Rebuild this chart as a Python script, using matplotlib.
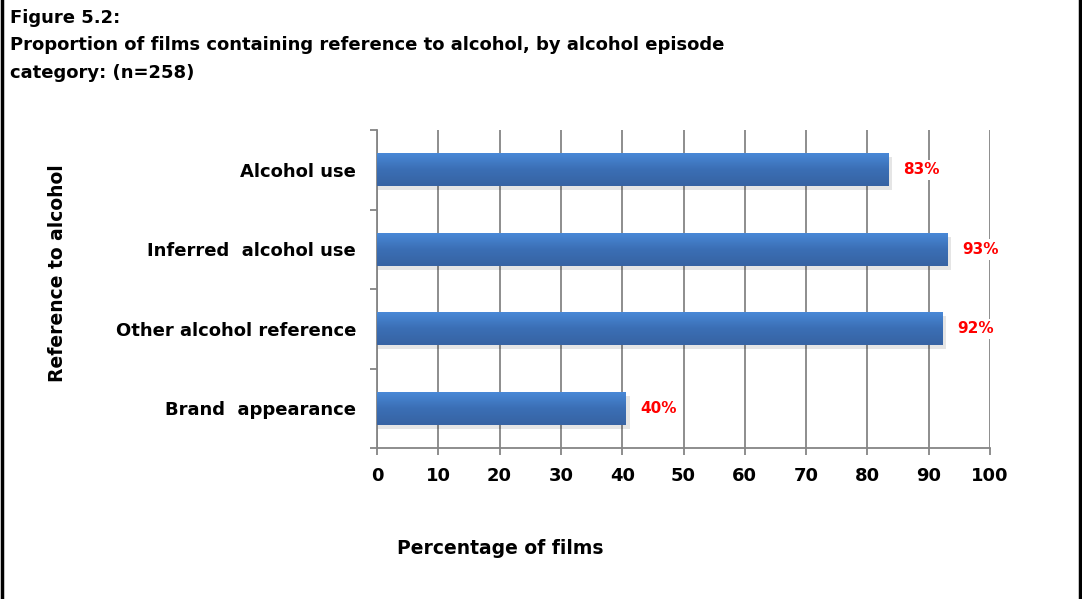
import numpy as np
import matplotlib
matplotlib.use("Agg")
import matplotlib.pyplot as plt

plt.rcParams['font.family'] = ['DejaVu Sans']
plt.rcParams['font.weight'] = 'bold'

# data
categories = ['Alcohol use', 'Inferred  alcohol use', 'Other alcohol reference', 'Brand  appearance']
values = [83.4, 93.1, 92.3, 40.6]
labels = ['83%', '93%', '92%', '40%']
xticks = list(range(0, 101, 10))

W, H = 1082, 599
fig = plt.figure(figsize=(W / 100, H / 100), dpi=100)

# axes: x 377..990 px, y 130..448 px
ax = fig.add_axes([377 / W, 1 - 448 / H, (990 - 377) / W, (448 - 130) / H])
ypos = np.arange(len(categories))[::-1]
ax.set_xlim(0, 100)
ax.set_ylim(-0.5, len(categories) - 0.5)

ax.set_axisbelow(True)
ax.xaxis.grid(True, color='#858585', lw=1.3)
ax.yaxis.grid(False)

bar_h = 0.42
# gradient for bars
grad = np.linspace(0, 1, 100).reshape(-1, 1)
cmap = matplotlib.colors.LinearSegmentedColormap.from_list('b', ['#4a8ad9', '#3b6fb5', '#3763a3'])
for y, v in zip(ypos, values):
    # shadow
    ax.barh(y - 0.05, v + 0.5, height=bar_h, left=0.1, color='#000000', alpha=0.10, zorder=2)
    b = ax.barh(y, v, height=bar_h, color='#4178c4', zorder=3, edgecolor='none')
    im = ax.imshow(grad, cmap=cmap, aspect='auto', zorder=4,
                   extent=[0, v, y - bar_h / 2, y + bar_h / 2])
    im.set_clip_path(b.patches[0])

for y, v, t in zip(ypos, values, labels):
    ax.text(v + 2.4, y, t, color='#ff0000', fontsize=11, fontweight='bold',
            va='center', ha='left', zorder=5,
            bbox=dict(facecolor='white', edgecolor='none', pad=2))

ax.set_xticks(xticks)
ax.set_xticklabels([str(x) for x in xticks], fontsize=13, fontweight='bold')
ax.set_yticks(ypos)
ax.set_yticklabels(categories, fontsize=13, fontweight='bold')
ax.set_yticks(np.arange(-0.5, len(categories), 1), minor=True)
ax.tick_params(axis='y', which='major', length=0, pad=15)
ax.tick_params(axis='y', which='minor', length=5, color='#858585', width=1.3)
ax.tick_params(axis='x', which='major', length=5, color='#858585', width=1.3, pad=9)

for s in ['top', 'right']:
    ax.spines[s].set_visible(False)
for s in ['left', 'bottom']:
    ax.spines[s].set_color('#858585')
    ax.spines[s].set_linewidth(1.3)

# titles
fig.text(10 / W, 1 - 18 / H, 'Figure 5.2:', fontsize=13, fontweight='bold', va='center')
fig.text(10 / W, 1 - 45 / H, 'Proportion of films containing reference to alcohol, by alcohol episode',
         fontsize=13, fontweight='bold', va='center')
fig.text(10 / W, 1 - 73 / H, 'category: (n=258)', fontsize=13, fontweight='bold', va='center')

fig.text(500 / W, 1 - 549 / H, 'Percentage of films', fontsize=13.5, fontweight='bold',
         ha='center', va='center')
fig.text(58 / W, 1 - 273 / H, 'Reference to alcohol', fontsize=13.5, fontweight='bold',
         ha='center', va='center', rotation=90)

# left and right frame lines
fig.add_artist(plt.Line2D([1.5 / W, 1.5 / W], [0, 1], color='black', lw=2.5))
fig.add_artist(plt.Line2D([1 - 2 / W, 1 - 2 / W], [0, 1], color='black', lw=2.5))

fig.savefig('out.png', dpi=100)
